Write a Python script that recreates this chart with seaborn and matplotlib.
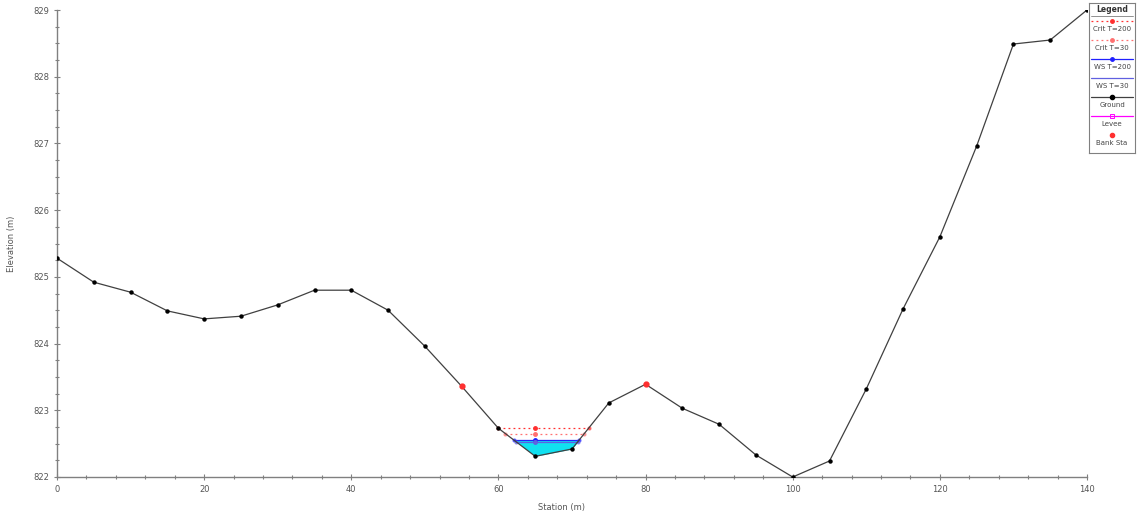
import numpy as np
import pandas as pd
import matplotlib
matplotlib.use("Agg")
import matplotlib.pyplot as plt
import seaborn as sns
from matplotlib.ticker import MultipleLocator

# ---- data ----
station = [0, 5, 10, 15, 20, 25, 30, 35, 40, 45, 50, 55, 60, 65, 70,
           75, 80, 85, 90, 95, 100, 105, 110, 115, 120, 125, 130, 135, 140]
ground = [825.28, 824.92, 824.77, 824.49, 824.37, 824.41, 824.58, 824.80,
          824.80, 824.50, 823.96, 823.36, 822.73, 822.31, 822.42, 823.11,
          823.39, 823.03, 822.79, 822.33, 822.00, 822.24, 823.32, 824.52,
          825.60, 826.96, 828.49, 828.55, 829.00]
bank_sta = [55, 80]
ws_names = ["Crit T=200", "Crit T=30", "WS T=200", "WS T=30"]
ws_elev = [822.74, 822.65, 822.55, 822.53]
ws_colors = ["#ff3030", "#ff7070", "#2020ff", "#6060e0"]
ws_styles = [(0, (1.5, 2.5)), (0, (1.5, 2.5)), "-", "-"]
legend_names = ws_names + ["Ground", "Levee", "Bank Sta"]

df = pd.DataFrame({"Station": station, "Elevation": ground})

sns.set_style("white")
plt.rcParams["font.family"] = ["DejaVu Sans"]

fig = plt.figure(figsize=(11.37, 5.12), dpi=100)
ax = fig.add_axes([57 / 1137, 1 - 477 / 512, 1030 / 1137, 467 / 512])

st = np.array(station, float)
gr = np.array(ground, float)
ch = (st >= bank_sta[0]) & (st <= bank_sta[1])
cst, cgr = st[ch], gr[ch]
imin = int(np.argmin(cgr))


def edges(z):
    xl = np.interp(z, cgr[:imin + 1][::-1], cst[:imin + 1][::-1])
    rg = cgr[imin:]
    rs = cst[imin:]
    k = np.argmax(rg >= z)
    xr = np.interp(z, rg[:k + 1], rs[:k + 1])
    return xl, xr


zl, zr = edges(ws_elev[2])
fx = np.concatenate([[zl], cst[(cst > zl) & (cst < zr)], [zr]])
fg = np.interp(fx, st, gr)
ax.fill_between(fx, fg, ws_elev[2], color="#10e0f0", lw=0, zorder=1)

for z, c, ls in zip(ws_elev, ws_colors, ws_styles):
    xl, xr = edges(z)
    ax.plot([xl, xr], [z, z], color=c, lw=0.9, ls=ls, zorder=2)
    ax.plot([65], [z], marker="o", ms=2.5, color=c, zorder=3)
    ax.plot([xl, xr], [z, z], ls="none", marker="o", ms=2, color=c,
            alpha=0.6, zorder=3)

sns.lineplot(data=df, x="Station", y="Elevation", ax=ax, color="#404040",
             lw=0.9, marker="o", markersize=3.2, markeredgewidth=0,
             markerfacecolor="black", zorder=4)
bdf = df[df["Station"].isin(bank_sta)]
ax.plot(bdf["Station"], bdf["Elevation"], ls="none", marker="o", ms=3.5,
        color="#ff3030", zorder=5)

ax.set_xlim(0, 140)
ax.set_ylim(822, 829)
ax.xaxis.set_major_locator(MultipleLocator(20))
ax.xaxis.set_minor_locator(MultipleLocator(4))
ax.yaxis.set_major_locator(MultipleLocator(1))
ax.yaxis.set_minor_locator(MultipleLocator(0.25))
ax.tick_params(which="both", direction="inout", color="#808080",
               labelsize=6, labelcolor="#555555", width=0.8,
               bottom=True, left=True)
ax.tick_params(which="major", length=5, pad=3)
ax.tick_params(which="minor", length=3)
for s in ["top", "right"]:
    ax.spines[s].set_visible(False)
for s in ["left", "bottom"]:
    ax.spines[s].set_color("#808080")
    ax.spines[s].set_linewidth(1.0)
ax.set_xlabel("Station (m)", fontsize=6, color="#555555")
ax.set_ylabel("Elevation (m)", fontsize=6, color="#555555")
ax.xaxis.set_label_coords(0.49, -0.055)
ax.yaxis.set_label_coords(-0.040, 0.5)

# ---- legend box (outside, right) ----
lax = fig.add_axes([1089 / 1137, 1 - 153 / 512, 46 / 1137, 150 / 512])
lax.set_xlim(0, 1)
lax.set_ylim(150, 0)
lax.set_xticks([])
lax.set_yticks([])
for s in lax.spines.values():
    s.set_color("#808080")
    s.set_linewidth(0.8)
lax.text(0.5, 7, "Legend", ha="center", va="center", fontsize=5.5,
         color="#333333", fontweight="bold")
lax.plot([0.05, 0.95], [12.5, 12.5], color="#808080", lw=0.6)
ent_h = 19
for i, name in enumerate(legend_names):
    y0 = 18 + i * ent_h
    if i < 4:
        lax.plot([0.05, 0.95], [y0, y0], color=ws_colors[i], lw=0.9,
                 ls=ws_styles[i])
        if i != 3:
            lax.plot([0.5], [y0], marker="o", ms=2.5, color=ws_colors[i])
    elif name == "Ground":
        lax.plot([0.05, 0.95], [y0, y0], color="#404040", lw=0.9)
        lax.plot([0.5], [y0], marker="o", ms=3, color="black")
    elif name == "Levee":
        lax.plot([0.05, 0.95], [y0, y0], color="#ff00ff", lw=0.9)
        lax.plot([0.5], [y0], marker="s", ms=3.5, mfc="none",
                 mec="#ff00ff", mew=0.7)
    else:
        lax.plot([0.5], [y0], marker="o", ms=3, color="#ff3030")
    lax.text(0.5, y0 + 8, name, ha="center", va="center", fontsize=5,
             color="#444444")

fig.savefig("out.png", dpi=100)
